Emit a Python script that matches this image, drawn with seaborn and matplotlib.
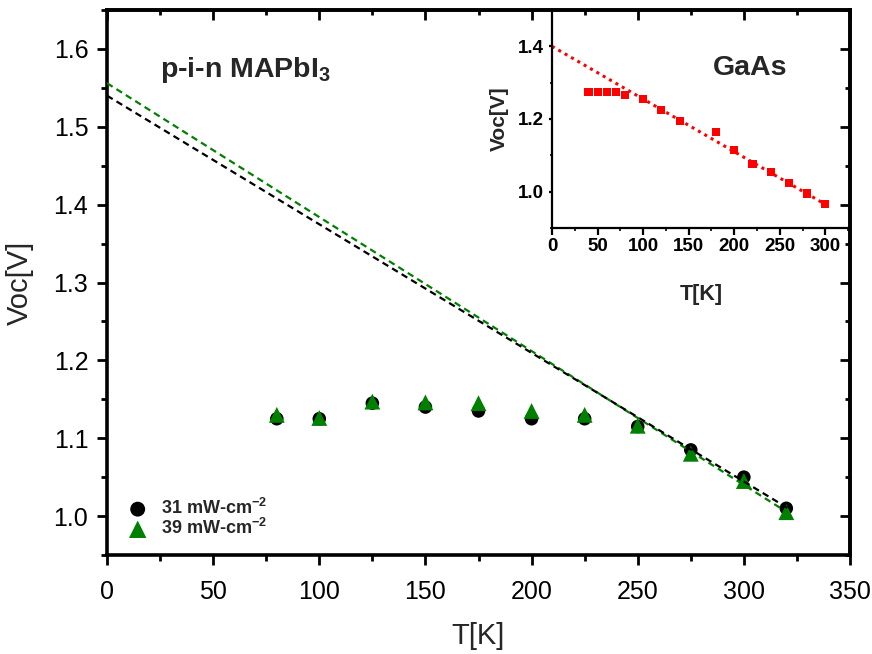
import numpy as np
import matplotlib
matplotlib.use('Agg')
import matplotlib.pyplot as plt
import seaborn as sns
from matplotlib.ticker import MultipleLocator

# p-i-n MAPbI3: Voc vs temperature at two light intensities
temp_K = [80, 100, 125, 150, 175, 200, 225, 250, 275, 300, 320]
voc_31 = [1.125, 1.125, 1.145, 1.140, 1.135, 1.125, 1.125, 1.115, 1.085, 1.050, 1.010]
voc_39 = [1.130, 1.126, 1.147, 1.146, 1.145, 1.135, 1.130, 1.116, 1.080, 1.045, 1.005]
series_labels = ['31 mW-cm$^{\\mathbf{-2}}$', '39 mW-cm$^{\\mathbf{-2}}$']

# linear extrapolations (intercept at T=0, slope per K) and their T range
fit_range = [0, 322]
fit_intercept = [1.540, 1.556]
fit_slope = [-0.001652, -0.001720]

# GaAs inset
gaas_T = [40, 50, 60, 70, 80, 100, 120, 140, 180, 200, 220, 240, 260, 280, 300]
gaas_voc = [1.275, 1.275, 1.275, 1.275, 1.265, 1.255, 1.225, 1.195, 1.165,
            1.115, 1.075, 1.055, 1.025, 0.995, 0.965]
gaas_fit_range = [0, 300]
gaas_intercept = 1.40
gaas_slope = -0.00145

GREEN = '#008000'


def setup_plotting():
    sns.set_style('ticks')
    plt.rcParams['font.family'] = ['Liberation Sans', 'DejaVu Sans']
    plt.rcParams['mathtext.fontset'] = 'custom'
    plt.rcParams['mathtext.rm'] = 'Liberation Sans'
    plt.rcParams['mathtext.bf'] = 'Liberation Sans:bold'
    plt.rcParams['axes.edgecolor'] = 'black'
    plt.rcParams['xtick.color'] = 'black'
    plt.rcParams['ytick.color'] = 'black'


def main():
    setup_plotting()
    fig = plt.figure(figsize=(8.72, 6.54), dpi=100)
    ax = fig.add_axes([107 / 872, 99 / 654, 743 / 872, 545 / 654])

    # data points
    sns.scatterplot(x=temp_K, y=voc_31, ax=ax, color='black', marker='o', s=95,
                    edgecolor='none', label=series_labels[0], zorder=3)
    sns.scatterplot(x=temp_K, y=voc_39, ax=ax, color=GREEN, marker='^', s=130,
                    edgecolor='none', label=series_labels[1], zorder=4)

    # extrapolated fits (green first so black sits on top)
    fx = np.array(fit_range, dtype=float)
    for i, col in [(1, GREEN), (0, 'black')]:
        sns.lineplot(x=fx, y=fit_intercept[i] + fit_slope[i] * fx, ax=ax, color=col,
                     lw=1.6, linestyle=(0, (3, 2)), legend=False, zorder=5)

    ax.set_xlim(0, 350)
    ax.set_ylim(0.95, 1.65)
    ax.xaxis.set_major_locator(MultipleLocator(50))
    ax.xaxis.set_minor_locator(MultipleLocator(25))
    ax.yaxis.set_major_locator(MultipleLocator(0.1))
    ax.yaxis.set_minor_locator(MultipleLocator(0.05))
    ax.tick_params(which='major', direction='out', length=7, width=2, labelsize=18)
    ax.tick_params(which='minor', direction='out', length=4, width=2)
    ax.tick_params(axis='x', pad=11)
    ax.tick_params(axis='y', pad=6.5)
    for sp in ax.spines.values():
        sp.set_linewidth(2.6)

    # inward ticks on top and right
    secx = ax.secondary_xaxis('top')
    secx.xaxis.set_major_locator(MultipleLocator(50))
    secx.xaxis.set_minor_locator(MultipleLocator(25))
    secx.tick_params(which='major', direction='in', length=7, width=2, labeltop=False)
    secx.tick_params(which='minor', direction='in', length=3.5, width=2)
    secx.spines['top'].set_linewidth(2.6)
    secy = ax.secondary_yaxis('right')
    secy.yaxis.set_major_locator(MultipleLocator(0.1))
    secy.yaxis.set_minor_locator(MultipleLocator(0.05))
    secy.tick_params(which='major', direction='in', length=7, width=2, labelright=False)
    secy.tick_params(which='minor', direction='in', length=3.5, width=2)
    secy.spines['right'].set_linewidth(2.6)

    ax.set_xlabel('T[K]', fontsize=21, labelpad=13)
    ax.set_ylabel('Voc[V]', fontsize=21, labelpad=14)

    ax.text(0.071, 0.877, 'p-i-n MAPbI$_\\mathbf{3}$', transform=ax.transAxes,
            fontsize=20.5, fontweight='bold', ha='left', va='baseline')

    ax.legend(loc='lower left', bbox_to_anchor=(0.0, 0.008), frameon=False,
              prop={'weight': 'bold', 'size': 13}, handletextpad=0.3,
              labelspacing=0.0, borderaxespad=0.3, markerscale=1.1)

    # GaAs inset
    axin = fig.add_axes([552 / 872, (654 - 228) / 654, (850 - 552) / 872, (228 - 10) / 654])
    axin.patch.set_alpha(0)
    gx = np.array(gaas_fit_range, dtype=float)
    sns.lineplot(x=gx, y=gaas_intercept + gaas_slope * gx, ax=axin, color='red',
                 lw=2.2, linestyle=(0, (1, 1.4)), legend=False)
    sns.scatterplot(x=gaas_T, y=gaas_voc, ax=axin, color='red', marker='s', s=34,
                    edgecolor='none', zorder=3, legend=False)
    axin.set_xlim(0, 327)
    axin.set_ylim(0.9, 1.5)
    axin.xaxis.set_major_locator(MultipleLocator(50))
    axin.xaxis.set_minor_locator(MultipleLocator(25))
    axin.yaxis.set_major_locator(MultipleLocator(0.2))
    axin.yaxis.set_minor_locator(MultipleLocator(0.1))
    axin.spines['top'].set_visible(False)
    axin.spines['right'].set_visible(False)
    axin.spines['left'].set_linewidth(1.6)
    axin.spines['bottom'].set_linewidth(1.6)
    axin.tick_params(axis='x', which='major', direction='out', length=5, width=1.6,
                     labelsize=13.5, pad=2)
    axin.tick_params(axis='x', which='minor', direction='out', length=2.5, width=1.2)
    axin.tick_params(axis='y', which='major', direction='out', length=2.5, width=1.6,
                     labelsize=13.5, pad=3)
    axin.tick_params(axis='y', which='minor', direction='out', length=1.8, width=1.2)
    plt.setp(axin.get_xticklabels(), fontweight='bold')
    plt.setp(axin.get_yticklabels(), fontweight='bold')
    axin.set_xlabel('T[K]', fontsize=15.5, fontweight='bold', labelpad=21)
    axin.set_ylabel('Voc[V]', fontsize=15, fontweight='bold', labelpad=7)
    axin.text(0.664, 0.734, 'GaAs', transform=axin.transAxes, fontsize=20.5,
              fontweight='bold', ha='center', va='center')

    fig.savefig('out.png', dpi=100)
    plt.close(fig)


if __name__ == '__main__':
    main()
